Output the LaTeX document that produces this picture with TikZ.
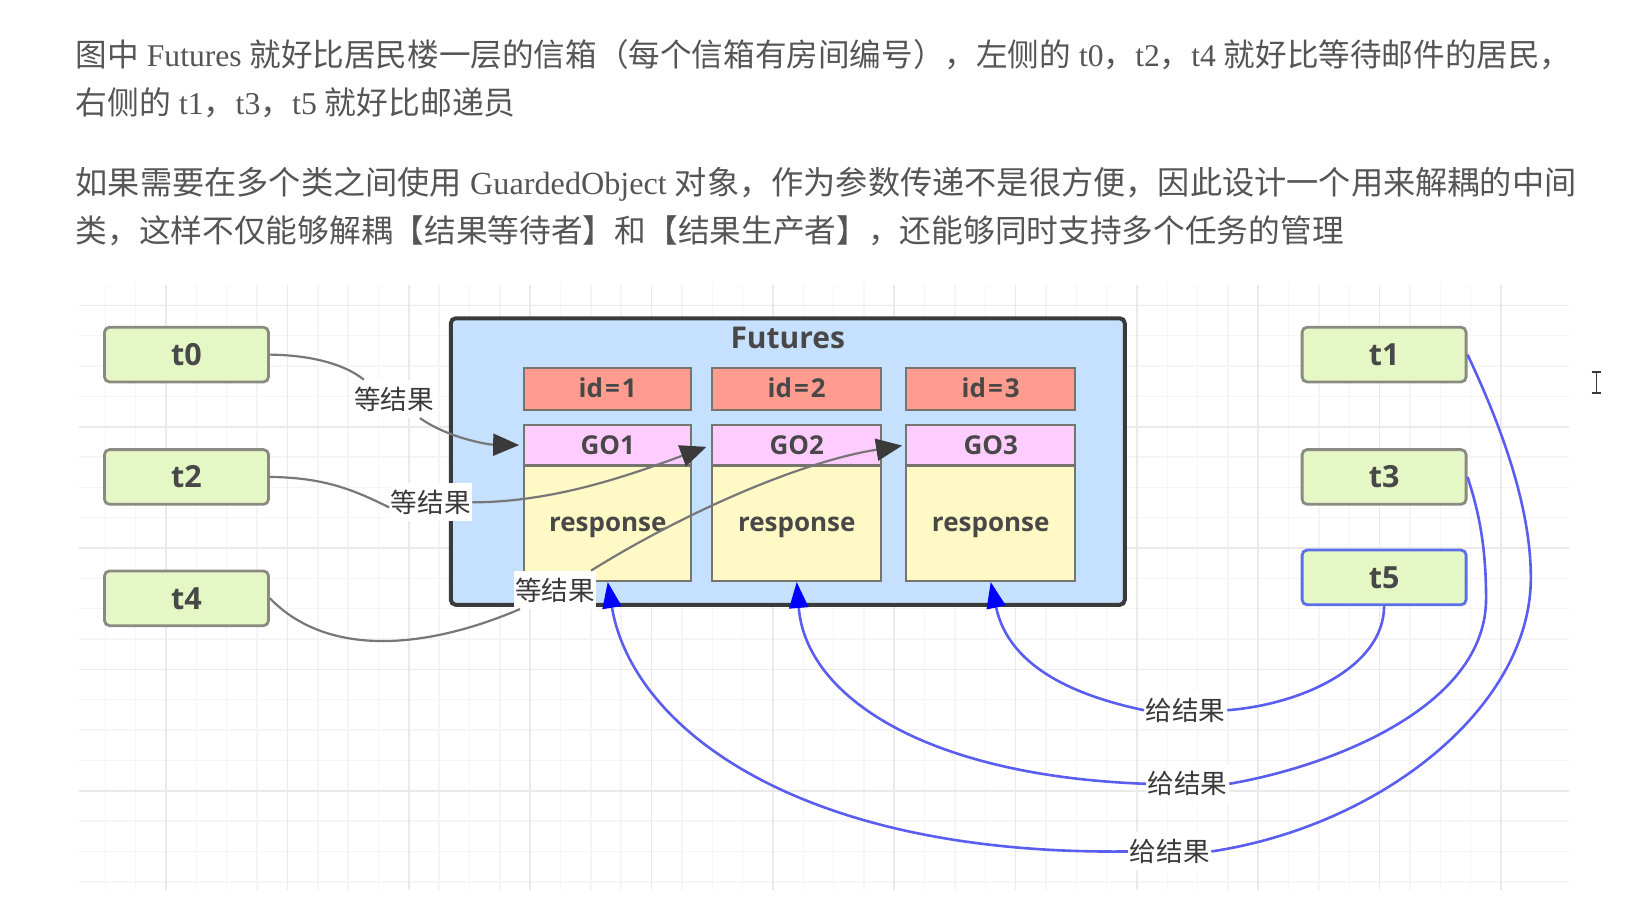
\documentclass[tikz,border=0pt]{standalone}
\usepackage{fontspec}
\setmainfont{Liberation Serif}
\newfontfamily\cjk{Noto Sans CJK SC}
\newfontfamily\dia{Open Sans}
\usetikzlibrary{arrows.meta}
\definecolor{txt}{HTML}{555555}
\definecolor{dark}{HTML}{3A3A3A}
\definecolor{soft}{HTML}{484848}
\definecolor{gridminor}{HTML}{F5F5F5}
\definecolor{gridmajor}{HTML}{EAEAEA}
\definecolor{tfill}{HTML}{E4F7C5}
\definecolor{tline}{HTML}{8A8A80}
\definecolor{tblue}{HTML}{5A6FE8}
\definecolor{outer}{HTML}{C5E1FF}
\definecolor{idfill}{HTML}{FF9C8F}
\definecolor{gofill}{HTML}{FFCCFF}
\definecolor{resp}{HTML}{FFF9C6}
\definecolor{lineblue}{HTML}{5A5EEE}
\definecolor{linegray}{HTML}{777777}
\tikzset{
  para/.style={anchor=west,inner sep=0pt,text=txt},
  tbox/.style={draw=tline,line width=2.8pt,fill=tfill,rounded corners=5pt,minimum width=164pt,minimum height=54.7pt,inner sep=0pt,text=soft,font=\dia\bfseries\fontsize{30.5}{36}\selectfont},
  cell/.style={draw=tline!85!black,line width=2.2pt,minimum width=167pt,inner sep=0pt,text=soft,font=\dia\bfseries\fontsize{26}{32}\selectfont},
  respcell/.style={cell,fill=resp,minimum height=115.4pt,text height=22pt,text depth=6pt},
  wait/.style={fill=white,inner sep=1.5pt,text=dark,minimum width=82pt,minimum height=38pt,font=\cjk\fontsize{26.6}{30}\selectfont},
  grayline/.style={draw=linegray,line width=2.2pt},
  blueline/.style={draw=lineblue,line width=2.6pt},
  grayhead/.style={-{Triangle[length=26pt,width=22pt,color=dark]}},
  bluehead/.style={-{Triangle[length=26pt,width=19pt,color=blue]}},
}
\begin{document}
\begin{tikzpicture}[x=0.9947pt,y=-0.9947pt]
\useasboundingbox (0,0) rectangle (1655.8,916.9);
% grid
\foreach \k in {0,...,11}{
  \foreach \m in {0,1,2,3}{
    \pgfmathsetmacro\xx{167+122*(\k-1)+30.5*\m}
    \ifdim\xx pt>79pt \ifdim\xx pt<1577pt
      \draw[gridminor,line width=1.4pt] (\xx,287) -- (\xx,895);
    \fi\fi
  }
}
\foreach \k in {0,...,5}{
  \foreach \m in {0,1,2,3}{
    \pgfmathsetmacro\yy{307+122*(\k)+30.5*\m}
    \ifdim\yy pt<895pt
      \draw[gridminor,line width=1.4pt] (79,\yy) -- (1577,\yy);
    \fi
  }
}
\foreach \k in {0,...,11}{
  \pgfmathsetmacro\xx{167+122*\k}
  \draw[gridmajor,line width=1.6pt] (\xx,287) -- (\xx,895);
}
\foreach \k in {0,...,4}{
  \pgfmathsetmacro\yy{307+122*\k}
  \draw[gridmajor,line width=1.6pt] (79,\yy) -- (1577,\yy);
}
% paragraph
\node[para,font=\fontsize{31.6}{36}\selectfont] (p1) at (76,55) {{\cjk 图中} Futures {\cjk 就好比居民楼一层的信箱（每个信箱有房间编号），左侧的} t0{\cjk ，}t2{\cjk ，}t4 {\cjk 就好比等待邮件的居民，}};
\node[para,font=\fontsize{31.8}{36}\selectfont] (p2) at (76,103) {{\cjk 右侧的} t1{\cjk ，}t3{\cjk ，}t5 {\cjk 就好比邮递员}};
\node[para,font=\fontsize{32.2}{36}\selectfont] (p3) at (76,185) {{\cjk 如果需要在多个类之间使用} GuardedObject {\cjk 对象，作为参数传递不是很方便，因此设计一个用来解耦的中间}};
\node[para,font=\fontsize{31.7}{36}\selectfont] (p4) at (76,232) {{\cjk 类，这样不仅能够解耦【结果等待者】和【结果生产者】，还能够同时支持多个任务的管理}};
% container
\node[draw=dark,line width=4pt,fill=outer,rounded corners=5pt,minimum width=674pt,minimum height=286.5pt,inner sep=0pt] (futures) at (792,464) {};
\node[inner sep=0pt,text=soft,font=\dia\bfseries\fontsize{30}{36}\selectfont] (ftitle) at (792,340) {Futures};
% cells
\node[cell,fill=idfill,minimum height=41.8pt] (id1) at (611,391) {\raisebox{3pt}{id\kern2pt=\kern2pt1}};
\node[cell,fill=idfill,minimum height=41.8pt,minimum width=169pt] (id2) at (801,391) {\raisebox{3pt}{id\kern2pt=\kern2pt2}};
\node[cell,fill=idfill,minimum height=41.8pt,minimum width=169pt] (id3) at (996,391) {\raisebox{3pt}{id\kern2pt=\kern2pt3}};
\node[cell,fill=gofill,minimum height=40.8pt] (go1) at (611,447.5) {\raisebox{1pt}{GO1}};
\node[cell,fill=gofill,minimum height=40.8pt,minimum width=169pt] (go2) at (801,447.5) {\raisebox{1pt}{GO2}};
\node[cell,fill=gofill,minimum height=40.8pt,minimum width=169pt] (go3) at (996,447.5) {\raisebox{1pt}{GO3}};
\node[respcell] (r1) at (611,526) {response};
\node[respcell,minimum width=169pt] (r2) at (801,526) {response};
\node[respcell,minimum width=169pt] (r3) at (996,526) {response};
% threads
\node[tbox] (t0) at (187.5,356.5) {t0};
\node[tbox] (t2) at (187.5,479.5) {t2};
\node[tbox] (t4) at (187.5,601.5) {t4};
\node[tbox] (t1) at (1391.5,356.5) {t1};
\node[tbox] (t3) at (1391.5,479.5) {t3};
\node[tbox,draw=tblue] (t5) at (1391.5,580.5) {t5};
% labels
\node[wait] (w0) at (396,401) {等结果};
\node[wait] (w2) at (433,505) {等结果};
\node[wait] (w4) at (558,593) {等结果};
\node[wait] (g5) at (1192,714) {给结果};
\node[wait] (g3) at (1194,788) {给结果};
\node[wait] (g1) at (1176,856) {给结果};
% gray connectors
\path[grayline] (t0.east) .. controls (310,357) and (345,365) .. ([xshift=-30pt]w0.north);
\path[grayline,grayhead,shorten >=4pt] ([xshift=26pt]w0.south) .. controls (450,440) and (490,447) .. (go1.west);
\path[grayline] (t2.east) .. controls (330,480) and (360,495) .. ([yshift=-5pt]w2.west);
\path[grayline,grayhead,shorten >=5pt] (w2.east) .. controls (560,505) and (640,475) .. (go2.west);
\path[grayline] (t4.east) .. controls (330,662) and (430,652) .. ([xshift=-35pt]w4.south);
\path[grayline,grayhead,shorten >=3pt] ([xshift=36pt]w4.north) .. controls (680,520) and (800,465) .. (go3.west);
% blue connectors
\path[blueline] (t1.east) .. controls (1510,430) and (1539,510) .. (1539,581) .. controls (1539,710) and (1390,830) .. (g1.east);
\path[blueline,bluehead] (g1.west) .. controls (800,860) and (635,730) .. (r1.south);
\path[blueline] (t3.east) .. controls (1487,515) and (1494,550) .. (1494,602) .. controls (1494,710) and (1340,770) .. (g3.east);
\path[blueline,bluehead] (g3.west) .. controls (930,780) and (810,700) .. (r2.south);
\path[blueline] (t5.south) .. controls (1391,670) and (1310,708) .. (g5.east);
\path[blueline,bluehead] (g5.west) .. controls (1060,695) and (1012,660) .. (r3.south);
% text cursor
\draw[dark,line width=1.2pt] (1600,374) -- (1610,374) (1600,395) -- (1610,395) (1605,374) -- (1605,395);
\end{tikzpicture}
\end{document}
